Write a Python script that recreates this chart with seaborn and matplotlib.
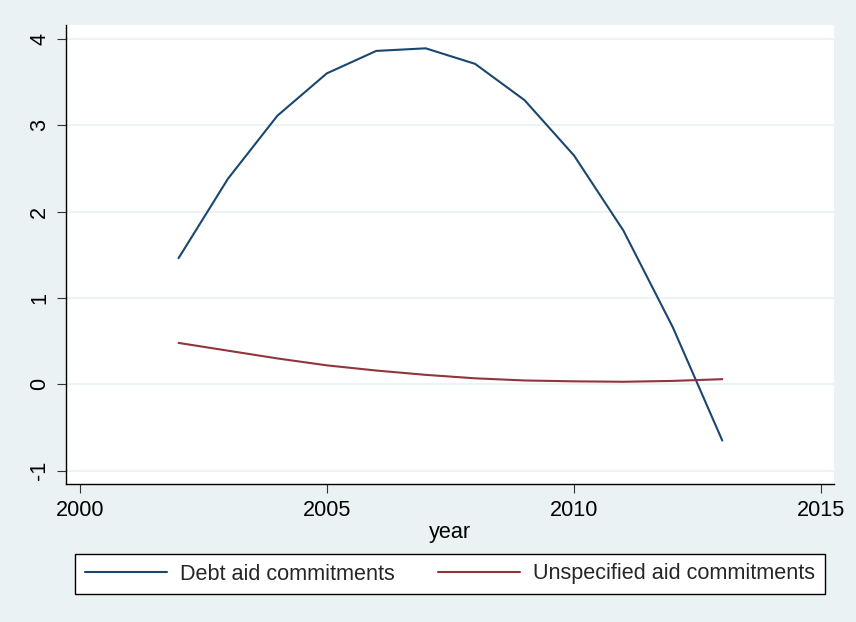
import matplotlib
matplotlib.use("Agg")
import matplotlib.pyplot as plt
import seaborn as sns
import pandas as pd

years = [2002, 2003, 2004, 2005, 2006, 2007, 2008, 2009, 2010, 2011, 2012, 2013]
debt = [1.46, 2.38, 3.11, 3.60, 3.86, 3.89, 3.71, 3.29, 2.65, 1.78, 0.66, -0.65]
unspecified = [0.48, 0.39, 0.30, 0.22, 0.16, 0.11, 0.07, 0.045, 0.035, 0.03, 0.04, 0.06]
series_names = ["Debt aid commitments", "Unspecified aid commitments"]
x_ticks = [2000, 2005, 2010, 2015]
y_ticks = [-1, 0, 1, 2, 3, 4]

df = pd.DataFrame({
    "year": years * 2,
    "value": debt + unspecified,
    "series": [series_names[0]] * len(years) + [series_names[1]] * len(years),
})

sns.set_theme(style="white")
plt.rcParams["font.family"] = ["Liberation Sans", "DejaVu Sans"]

bg = "#EAF2F3"
fs = 15.6
fig = plt.figure(figsize=(8.56, 6.22), dpi=100, facecolor=bg)
W, H = 856, 622
ax = fig.add_axes([66.3 / W, (H - 483.7) / H, (834 - 66.3) / W, (483.7 - 25) / H])
ax.set_facecolor("white")

palette = {series_names[0]: "#1A476F", series_names[1]: "#90353B"}
sns.lineplot(data=df, x="year", y="value", hue="series", palette=palette,
             linewidth=1.5, ax=ax, legend=False)

ax.set_xlim(1999.73, 2015.26)
ax.set_ylim(-1.15, 4.16)
ax.set_xticks(x_ticks)
ax.set_yticks(y_ticks)
ax.set_yticklabels([str(v) for v in y_ticks], rotation=90, va="center")
ax.grid(axis="y", color=bg, linewidth=1.3)
ax.grid(axis="x", visible=False)
for side in ["top", "right"]:
    ax.spines[side].set_visible(False)
for side in ["left", "bottom"]:
    ax.spines[side].set_color("black")
    ax.spines[side].set_linewidth(1.0)
ax.tick_params(axis="both", which="major", direction="out", length=6.5, width=0.8,
               color="#333333", labelsize=fs, labelcolor="black", pad=5,
               left=True, bottom=True)
ax.set_xlabel("year", fontsize=fs, color="black", labelpad=1)
ax.set_ylabel("")

handles = [plt.Line2D([], [], color=palette[n], linewidth=1.5) for n in series_names]
leg = fig.legend(handles, series_names, loc="center",
                 bbox_to_anchor=(450 / W, (H - 574) / H),
                 ncol=2, fontsize=fs, frameon=True, fancybox=False,
                 edgecolor="black", facecolor="white", framealpha=1.0,
                 handlelength=3.8, handletextpad=0.6, borderaxespad=0.0,
                 borderpad=0.46, columnspacing=2.0)
leg.get_frame().set_linewidth(1.0)

fig.savefig("out.png", dpi=100, facecolor=bg)
